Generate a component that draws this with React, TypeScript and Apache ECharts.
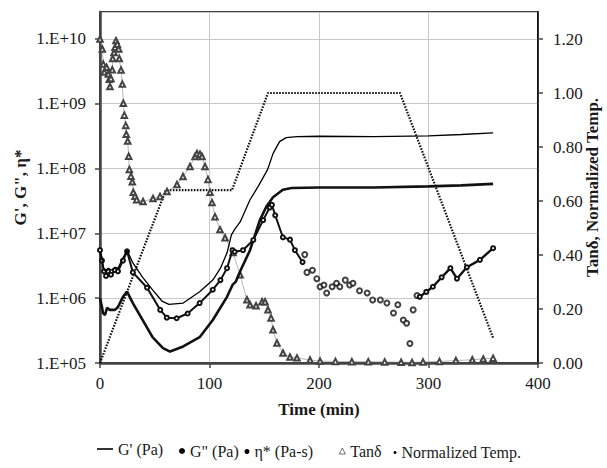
import React, { useEffect, useRef } from "react";
import * as echarts from "echarts";

// ---- data (time in min) ----
const gpTime = [0, 1.8, 2.7, 5.5, 7.3, 11, 13.7, 16.4, 21, 24.7, 30, 39, 48, 57, 63, 76, 91, 103, 110, 116, 120, 123, 128, 137, 145, 153, 158, 164, 170, 180, 200, 250, 300, 330, 359];
const gpVal = [5.1e6, 4.2e6, 3.0e6, 2.5e6, 2.9e6, 2.7e6, 3.0e6, 2.9e6, 4.2e6, 5.5e6, 3.5e6, 2.1e6, 1.34e6, 8.9e5, 8.0e5, 8.4e5, 1.26e6, 1.9e6, 2.9e6, 5.0e6, 9.5e6, 1.15e7, 1.5e7, 3.3e7, 5.5e7, 9.6e7, 1.7e8, 2.6e8, 3.0e8, 3.1e8, 3.15e8, 3.1e8, 3.2e8, 3.35e8, 3.55e8];

const gppRiseTime = [0, 1.8, 3.7, 5.5, 7.3, 10, 13.7, 16.4, 21, 24.7, 30, 43, 55, 61, 70, 80, 91, 103, 110, 116, 121, 123, 130.6, 140, 149, 155, 157, 160, 167, 173.5, 178, 185];
const gppRiseVal = [5.5e6, 3.8e6, 2.6e6, 2.2e6, 2.6e6, 2.3e6, 2.7e6, 2.6e6, 3.8e6, 5.3e6, 2.5e6, 1.45e6, 6.6e5, 5.0e5, 4.9e5, 5.8e5, 8.4e5, 1.35e6, 1.9e6, 2.9e6, 5.5e6, 5.2e6, 5.5e6, 7.9e6, 1.6e7, 2.5e7, 2.75e7, 1.9e7, 8.7e6, 8.0e6, 5.5e6, 3.6e6];
const gppScatterTime = [187, 189, 194, 198, 201, 204.5, 207, 212, 216, 219, 224, 228, 231, 237, 244, 249, 256, 262, 268, 272, 277, 280, 283, 286, 289.5];
const gppScatterVal = [4.7e6, 2.5e6, 2.7e6, 2.0e6, 1.5e6, 1.6e6, 1.2e6, 1.5e6, 1.7e6, 1.5e6, 1.9e6, 1.6e6, 1.7e6, 1.3e6, 1.2e6, 9.4e5, 9.4e5, 8.4e5, 5.9e5, 7.9e5, 4.6e5, 4.1e5, 2.0e5, 6.6e5, 1.1e6];
const gppTailTime = [292, 298, 304, 312, 320, 326, 335, 347, 359];
const gppTailVal = [1.05e6, 1.25e6, 1.5e6, 2.1e6, 2.9e6, 2.0e6, 3.0e6, 3.9e6, 5.9e6];

const etaTime = [0, 1.8, 2.7, 4.6, 6.4, 9, 13.7, 16.4, 21, 24.7, 30, 39, 48, 57.5, 64, 76, 91, 103, 116, 121, 124, 128, 137, 146, 152, 158, 167, 175, 200, 250, 300, 330, 359];
const etaVal = [1.0e6, 7.3e5, 5.9e5, 5.5e5, 7.1e5, 6.6e5, 6.6e5, 7.3e5, 1.05e6, 1.26e6, 8.4e5, 4.6e5, 2.5e5, 1.7e5, 1.5e5, 1.8e5, 2.5e5, 4.6e5, 1.05e6, 1.6e6, 1.8e6, 2.6e6, 5.5e6, 1.6e7, 2.6e7, 3.6e7, 4.7e7, 5.0e7, 5.1e7, 5.1e7, 5.3e7, 5.5e7, 5.8e7];

const tanTime = [0, 2.1, 3.0, 3.9, 6.1, 7.6, 8.5, 9.1, 10.0, 11.2, 11.6, 12.8, 13.7, 14.6, 15.8, 17.1, 17.6, 19.2, 20.4, 21.3, 22.2, 23.5, 24.0, 25.3, 26.2, 26.8, 28.3, 29.5, 30.4, 32.0, 33.5, 39.3, 48.4, 54.8, 61.2, 70.3, 75.8, 82.2, 86.8, 88.6, 91.3, 93.2, 95.9, 98.6, 100.5, 102.3, 105, 109.6, 114.2, 121.5, 127.9, 134.2, 137, 142.5, 148, 150.7, 153.4, 156.2, 158, 161.6, 167.1, 173.5, 179.9, 191.8, 201, 215, 230, 245, 260, 275, 285, 295, 310, 325, 340, 350, 359];
const tanVal = [1.2, 1.163, 1.107, 1.078, 1.095, 1.07, 1.051, 1.024, 1.054, 1.086, 1.128, 1.15, 1.169, 1.194, 1.181, 1.163, 1.128, 1.085, 1.033, 0.962, 0.918, 0.88, 0.847, 0.822, 0.766, 0.717, 0.692, 0.671, 0.632, 0.618, 0.605, 0.598, 0.609, 0.617, 0.635, 0.661, 0.691, 0.728, 0.765, 0.776, 0.773, 0.765, 0.728, 0.68, 0.632, 0.594, 0.542, 0.494, 0.464, 0.409, 0.327, 0.234, 0.216, 0.212, 0.227, 0.227, 0.197, 0.167, 0.123, 0.074, 0.037, 0.022, 0.019, 0.011, 0.007, 0.006, 0.005, 0.005, 0.004, 0.003, 0.002, 0.004, 0.006, 0.009, 0.012, 0.015, 0.018];

const tempTime = [0, 60, 120.5, 153.4, 274, 359];
const tempVal = [0, 0.64, 0.64, 1.0, 1.0, 0.093];

const leftTicks = ["1.E+05", "1.E+06", "1.E+07", "1.E+08", "1.E+09", "1.E+10"];

const pairs = (t: number[], v: number[]) => t.map((x, i) => [x, v[i]]);

const FONT = "'Liberation Serif', 'Times New Roman', Times, serif";
const TXT = "#1a1a1a";

const legendText = { fontFamily: FONT, fontSize: 16, color: TXT };

const option: any = {
  animation: false,
  backgroundColor: "#fff",
  textStyle: { fontFamily: FONT },
  grid: { left: 100, right: 69, top: 12, bottom: 105, show: true, borderColor: "#000", borderWidth: 1.5, containLabel: false, outerBoundsMode: "none" },
  legend: [
    { left: 97, top: 441, padding: 0, itemWidth: 16, itemHeight: 10, selectedMode: false, textStyle: legendText,
      data: [{ name: "G' (Pa)", icon: "path://M0,0H20V2H0Z", itemStyle: { color: "#000" } }] },
    { left: 179, top: 443, padding: 0, itemWidth: 6, itemHeight: 6, selectedMode: false, textStyle: legendText,
      data: [{ name: 'G" (Pa)', icon: "circle", itemStyle: { color: "#000", borderWidth: 0 } }] },
    { left: 244.5, top: 443.5, padding: 0, itemWidth: 5, itemHeight: 5, selectedMode: false, textStyle: legendText,
      data: [{ name: "η* (Pa-s)", icon: "circle", itemStyle: { color: "#000", borderWidth: 0 } }] },
    { left: 339, top: 443, padding: 0, itemWidth: 6, itemHeight: 6, selectedMode: false, textStyle: legendText,
      data: [{ name: "Tanδ", icon: "triangle", itemStyle: { color: "#fff", borderColor: "#333", borderWidth: 0.7 } }] },
    { left: 393.5, top: 444.5, padding: 0, itemWidth: 3, itemHeight: 3, selectedMode: false, textStyle: legendText,
      data: [{ name: "Normalized Temp.", icon: "circle", itemStyle: { color: "#000", borderWidth: 0 } }] },
  ],
  xAxis: {
    type: "value", min: 0, max: 400, interval: 100,
    axisLine: { lineStyle: { color: "#444", width: 2.5 } },
    axisTick: { show: true, length: 5, lineStyle: { color: "#444", width: 1.5 } },
    axisLabel: { margin: 12, fontFamily: FONT, fontSize: 17, color: TXT },
    splitLine: { show: true, lineStyle: { color: "#c8c8c8", width: 1 } },
    name: "Time (min)", nameLocation: "middle", nameGap: 38, nameMoveOverlap: false,
    nameTextStyle: { fontFamily: FONT, fontSize: 17, fontWeight: "bold", color: TXT },
  },
  yAxis: [
    {
      type: "log", logBase: 10, min: 1e5, max: 2.6e10,
      axisLine: { show: true, lineStyle: { color: "#444", width: 2.5 } },
      axisTick: { show: true, length: 5, lineStyle: { color: "#444", width: 1.5 } },
      axisLabel: {
        margin: 14, fontFamily: FONT, fontSize: 17, color: TXT, showMaxLabel: false,
        formatter: (v: number) => leftTicks[Math.round(Math.log10(v)) - 5] ?? "",
      },
      splitLine: { show: true, lineStyle: { color: "#c8c8c8", width: 1 } },
      name: 'G\', G", η*', nameLocation: "middle", nameGap: 71, nameRotate: 90, nameMoveOverlap: false,
      nameTextStyle: { fontFamily: FONT, fontSize: 17, fontWeight: "bold", color: TXT },
    },
    {
      type: "value", min: 0, max: 1.3, interval: 0.2, position: "right",
      axisLine: { show: true, lineStyle: { color: "#000", width: 1.5 } },
      axisTick: { show: true, length: 5, lineStyle: { color: "#444", width: 1.5 } },
      axisLabel: { margin: 15, fontFamily: FONT, fontSize: 17, color: TXT, showMaxLabel: false, formatter: (v: number) => v.toFixed(2) },
      splitLine: { show: false },
      name: "Tanδ, Normalized Temp.", nameLocation: "middle", nameGap: 46, nameRotate: 90, nameMoveOverlap: false,
      nameTextStyle: { fontFamily: FONT, fontSize: 17, fontWeight: "bold", color: TXT },
    },
  ],
  series: [
    { name: "Normalized Temp.", type: "line", yAxisIndex: 1, data: pairs(tempTime, tempVal), symbol: "none",
      lineStyle: { color: "#111", width: 2.2, type: [1.6, 1.4] }, itemStyle: { color: "#000" }, z: 1 },
    { name: "Tanδ", type: "line", yAxisIndex: 1, data: pairs(tanTime, tanVal), symbol: "emptyTriangle", symbolSize: 5.5,
      showSymbol: true, lineStyle: { color: "#888", width: 0.6 }, itemStyle: { color: "#444", borderWidth: 0.7 }, z: 2 },
    { name: "η* (Pa-s)", type: "line", yAxisIndex: 0, data: pairs(etaTime, etaVal), symbol: "none",
      lineStyle: { color: "#111", width: 2.6 }, itemStyle: { color: "#000" }, z: 3 },
    { name: 'G" (Pa)', type: "line", yAxisIndex: 0, data: pairs(gppRiseTime, gppRiseVal), symbol: "emptyCircle", symbolSize: 4,
      showSymbol: true, lineStyle: { color: "#111", width: 2 }, itemStyle: { color: "#111", borderWidth: 1 }, z: 3 },
    { name: 'G" (Pa)', type: "scatter", yAxisIndex: 0, data: pairs(gppScatterTime, gppScatterVal), symbol: "emptyCircle", symbolSize: 5,
      itemStyle: { color: "#111", borderWidth: 1.2 }, z: 3 },
    { name: 'G" (Pa)', type: "line", yAxisIndex: 0, data: pairs(gppTailTime, gppTailVal), symbol: "emptyCircle", symbolSize: 4,
      showSymbol: true, lineStyle: { color: "#111", width: 2.4 }, itemStyle: { color: "#111", borderWidth: 1 }, z: 3 },
    { name: "G' (Pa)", type: "line", yAxisIndex: 0, data: pairs(gpTime, gpVal), symbol: "none",
      lineStyle: { color: "#000", width: 1.3 }, itemStyle: { color: "#000" }, z: 4 },
  ],
};

export default function App() {
  const ref = useRef<HTMLDivElement>(null);
  useEffect(() => {
    if (!ref.current) return;
    const chart = echarts.init(ref.current, null, { renderer: "svg" });
    chart.setOption(option);
    return () => chart.dispose();
  }, []);
  return <div ref={ref} style={{ position: "fixed", left: 0, top: 0, width: 607, height: 468, background: "#fff" }} />;
}
